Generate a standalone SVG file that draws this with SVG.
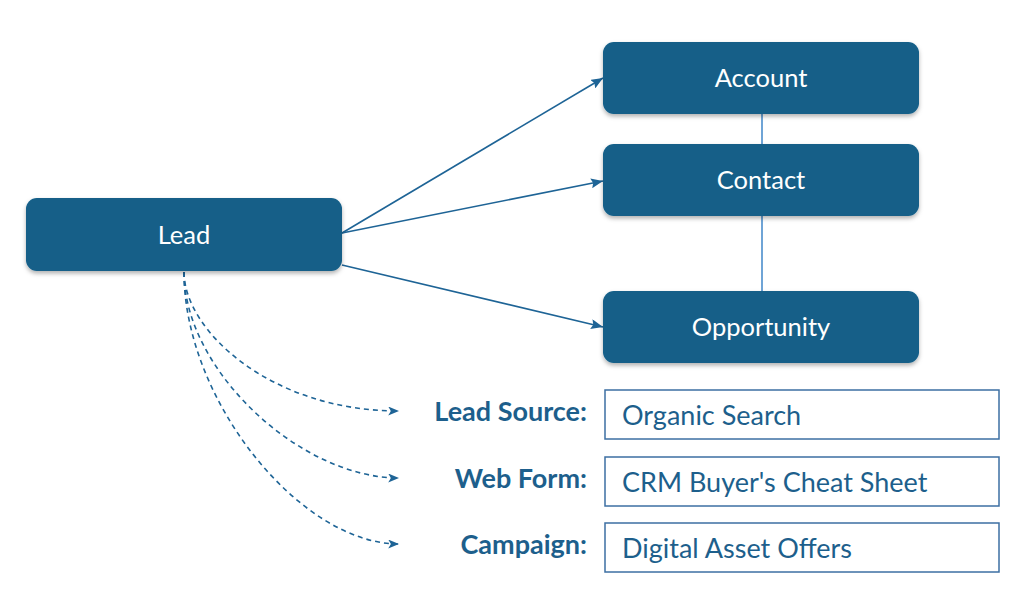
<svg xmlns="http://www.w3.org/2000/svg" width="1024" height="597" viewBox="0 0 1024 597">
<defs>
<style>
.node{fill:#125e88;}
.ntext{font-family:Lato,"Open Sans",sans-serif;font-size:25.5px;fill:#ffffff;text-anchor:middle;}
.lbl{font-family:Lato,"Open Sans",sans-serif;font-size:27px;font-weight:bold;fill:#1d5f8c;text-anchor:end;}
.val{font-family:Lato,"Open Sans",sans-serif;font-size:27px;fill:#1d5f8c;}
.vbox{fill:#ffffff;stroke:#3d6fa3;stroke-width:1.5;}
.solid{stroke:#1e6496;stroke-width:1.6;fill:none;marker-end:url(#ah);}
.dash{stroke:#1e6496;stroke-width:1.6;fill:none;stroke-dasharray:5 4;marker-end:url(#ah2);}
</style>
<filter id="sh" x="-10%" y="-20%" width="120%" height="150%">
<feDropShadow dx="0" dy="2.5" stdDeviation="2" flood-color="#000" flood-opacity="0.3"/>
</filter>
<marker id="ah" viewBox="0 0 12 10" refX="12" refY="5" markerWidth="12" markerHeight="10" markerUnits="userSpaceOnUse" orient="auto">
<path d="M0,0 L12,5 L0,10 L2,5 Z" fill="#1e6496"/>
</marker>
<marker id="ah2" viewBox="0 0 12 10" refX="12" refY="5" markerWidth="12" markerHeight="9" markerUnits="userSpaceOnUse" orient="auto">
<path d="M0,0 L12,5 L0,10 L3,5 Z" fill="#1e6496"/>
</marker>
</defs>
<rect width="1024" height="597" fill="#ffffff"/>
<g id="connectors">
<line x1="762" y1="114" x2="762" y2="291" stroke="#3f86c8" stroke-width="1.5"/>
<path class="solid" d="M342,233 L603,78"/>
<path class="solid" d="M342,233 L603,181"/>
<path class="solid" d="M342,265 L603,327"/>
<path class="dash" d="M184,272 C184,330 270,411 399,411"/>
<path class="dash" d="M184,272 C184,370 300,478 399,478"/>
<path class="dash" d="M184,272 C184,400 300,544 399,544"/>
</g>
<g id="lead">
<rect class="node" x="26" y="198" width="316" height="73" rx="11" filter="url(#sh)"/>
<text class="ntext" x="184" y="244">Lead</text>
</g>
<g id="account">
<rect class="node" x="603" y="42" width="316" height="72" rx="11" filter="url(#sh)"/>
<text class="ntext" x="761" y="87">Account</text>
</g>
<g id="contact">
<rect class="node" x="603" y="144" width="316" height="72" rx="11" filter="url(#sh)"/>
<text class="ntext" x="761" y="189">Contact</text>
</g>
<g id="opportunity">
<rect class="node" x="603" y="291" width="316" height="72" rx="11" filter="url(#sh)"/>
<text class="ntext" x="761" y="336">Opportunity</text>
</g>
<g id="lead-source">
<text class="lbl" x="587" y="421">Lead Source:</text>
<rect class="vbox" x="605" y="390" width="394" height="49"/>
<text class="val" x="622" y="425">Organic Search</text>
</g>
<g id="web-form">
<text class="lbl" x="587" y="488">Web Form:</text>
<rect class="vbox" x="605" y="457" width="394" height="49"/>
<text class="val" x="622" y="492">CRM Buyer's Cheat Sheet</text>
</g>
<g id="campaign">
<text class="lbl" x="587" y="554">Campaign:</text>
<rect class="vbox" x="605" y="523" width="394" height="49"/>
<text class="val" x="622" y="558">Digital Asset Offers</text>
</g>
</svg>
